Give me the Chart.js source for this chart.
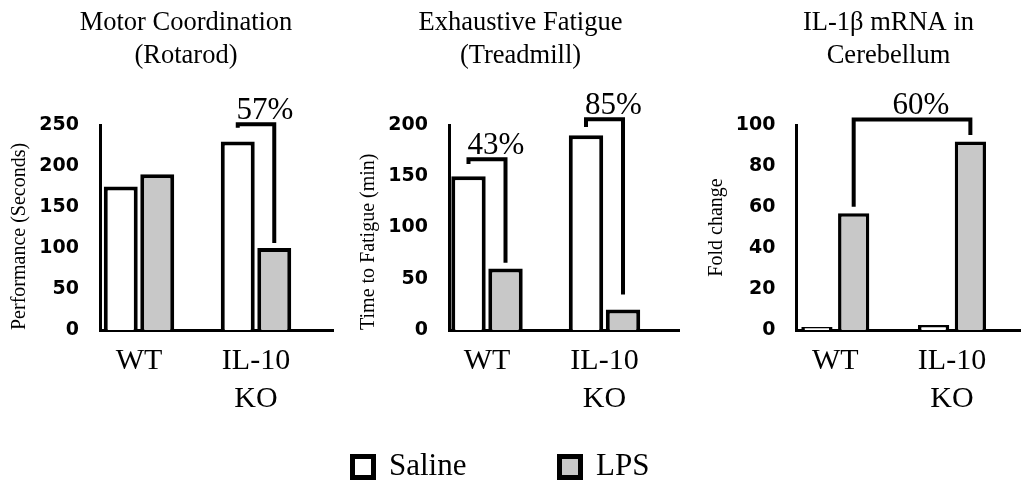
<!DOCTYPE html>
<html>
<head>
<meta charset="utf-8">
<script src="https://cdn.jsdelivr.net/npm/chart.js@4.4.1/dist/chart.umd.min.js"></script>
<style>
html, body { margin: 0; padding: 0; background: #fff; overflow: hidden; width: 1021px; height: 485px; }
canvas { position: absolute; left: 0; top: 0; }
</style>
</head>
<body>
<canvas id="c1" width="1021" height="485"></canvas>
<canvas id="c2" width="1021" height="485"></canvas>
<canvas id="c3" width="1100" height="485"></canvas>
<canvas id="c4" width="1021" height="620"></canvas>
<script>
// ---- data ----
const categories = [['WT'], ['IL-10', 'KO']];
const seriesNames = ['Saline', 'LPS'];

const rotarodSaline = [175, 230];
const rotarodLPS = [190, 100];
const treadmillSaline = [150, 190];
const treadmillLPS = [60, 20];
const il1bSaline = [1.5, 2.5];
const il1bLPS = [57, 92];

const rotarodAxis = [0, 250, 50];   // min, max, step
const treadmillAxis = [0, 200, 50];
const il1bAxis = [0, 100, 20];

const panelTitles = [['Motor Coordination', '(Rotarod)'], ['Exhaustive Fatigue', '(Treadmill)'], ['IL-1β mRNA in', 'Cerebellum']];
const yTitles = ['Performance (Seconds)', 'Time to Fatigue (min)', 'Fold change'];

// brackets: from/to = [category index, series index]; level/ends in data units
const rotarodBrackets = [{ from: [1, 0], to: [1, 1], level: 251, leftEnd: 246.5, rightEnd: 106, label: '57%' }];
const treadmillBrackets = [
  { from: [0, 0], to: [0, 1], level: 166.6, leftEnd: 162, rightEnd: 65.5, label: '43%' },
  { from: [1, 0], to: [1, 1], level: 205.7, leftEnd: 198, rightEnd: 34.6, label: '85%' }
];
const il1bBrackets = [{ from: [0, 1], to: [1, 1], level: 102.7, leftEnd: 60.1, rightEnd: 95.1, label: '60%' }];

// ---- styles ----
const fills = ['#ffffff', '#c8c8c8'];
const SERIF = 'Liberation Serif';

const bracketPlugin = {
  id: 'brackets',
  afterDatasetsDraw(chart, args, opts) {
    const ctx = chart.ctx;
    const ys = chart.scales.y;
    ctx.save();
    ctx.strokeStyle = '#000';
    ctx.lineWidth = 4;
    ctx.lineJoin = 'miter';
    ctx.lineCap = 'butt';
    (opts.items || []).forEach(b => {
      const xl = chart.getDatasetMeta(b.from[1]).data[b.from[0]].x;
      const xr = chart.getDatasetMeta(b.to[1]).data[b.to[0]].x;
      const yl = ys.getPixelForValue(b.level);
      ctx.beginPath();
      ctx.moveTo(xl, ys.getPixelForValue(b.leftEnd));
      ctx.lineTo(xl, yl);
      ctx.lineTo(xr, yl);
      ctx.lineTo(xr, ys.getPixelForValue(b.rightEnd));
      ctx.stroke();
      ctx.font = '31px "' + SERIF + '"';
      ctx.fillStyle = '#000';
      ctx.textAlign = 'center';
      ctx.textBaseline = 'alphabetic';
      ctx.fillText(b.label, (xl + xr) / 2 + 9, yl - 5.5);
    });
    ctx.restore();
  }
};

function makePanel(id, p) {
  const series = [p.saline, p.lps];
  return new Chart(document.getElementById(id), {
    type: 'bar',
    data: {
      datasets: series.map((vals, s) => ({
        label: seriesNames[s],
        data: vals.map((v, i) => ({ x: i, y: v })),
        backgroundColor: fills[s],
        borderColor: '#000',
        borderWidth: p.barBorder,
        borderSkipped: 'start',
        categoryPercentage: p.catPct,
        barPercentage: p.barPct
      }))
    },
    options: {
      responsive: false,
      animation: false,
      events: [],
      layout: { padding: { left: p.padL, right: p.padR, top: 0, bottom: 68 } },
      scales: {
        x: {
          type: 'linear',
          min: p.xMin,
          max: p.xMax,
          offset: false,
          grid: { display: false, drawTicks: false },
          border: { display: true, color: '#000', width: 3 },
          afterBuildTicks: s => { s.ticks = categories.map((c, i) => ({ value: i })); },
          afterFit: s => { s.height = 87; },
          ticks: {
            autoSkip: false,
            maxRotation: 0,
            padding: 12,
            color: '#000',
            font: { family: SERIF, size: 30, lineHeight: '38px' },
            callback: v => categories[v]
          }
        },
        y: {
          min: p.axis[0],
          max: p.axis[1],
          grid: { display: false, drawTicks: false },
          border: { display: true, color: '#000', width: 3 },
          afterFit: s => { s.width = p.yWidth; },
          ticks: {
            stepSize: p.axis[2],
            padding: 21,
            color: '#000',
            font: { family: 'DejaVu Sans', size: 19, weight: 'bold' }
          },
          title: {
            display: true,
            text: p.yTitle,
            color: '#000',
            align: p.yAlign,
            font: { family: SERIF, size: 20, lineHeight: 1.2 },
            padding: { top: p.yTitlePad, bottom: 0 }
          }
        }
      },
      plugins: {
        legend: { display: false },
        tooltip: { enabled: false },
        title: {
          display: true,
          text: p.title,
          color: '#000',
          font: { family: SERIF, size: 26.5, weight: 'normal', lineHeight: '33px' },
          padding: { top: 7, bottom: 52 }
        },
        brackets: { items: p.brackets }
      }
    },
    plugins: [bracketPlugin]
  });
}

makePanel('c1', {
  saline: rotarodSaline, lps: rotarodLPS, axis: rotarodAxis,
  title: panelTitles[0], yTitle: yTitles[0], brackets: rotarodBrackets,
  padL: 39, padR: 688, yWidth: 61, yTitlePad: -31, yAlign: 'start',
  xMin: -0.3333, xMax: 1.658, catPct: 0.624, barPct: 0.93, barBorder: 4
});
makePanel('c2', {
  saline: treadmillSaline, lps: treadmillLPS, axis: treadmillAxis,
  title: panelTitles[1], yTitle: yTitles[1], brackets: treadmillBrackets,
  padL: 362, padR: 342, yWidth: 87, yTitlePad: -5, yAlign: 'start',
  xMin: -0.3234, xMax: 1.634, catPct: 0.63, barPct: 0.93, barBorder: 4
});
makePanel('c3', {
  saline: il1bSaline, lps: il1bLPS, axis: il1bAxis,
  title: panelTitles[2], yTitle: yTitles[2], brackets: il1bBrackets,
  padL: 725, padR: 48, yWidth: 71.5, yTitlePad: -20.3, yAlign: 'center',
  xMin: -0.3325, xMax: 1.857, catPct: 0.63, barPct: 0.85, barBorder: 3.5
});

// shared legend
new Chart(document.getElementById('c4'), {
  type: 'bar',
  data: {
    labels: [],
    datasets: seriesNames.map((n, s) => ({
      label: n, data: [], backgroundColor: fills[s], borderColor: '#000', borderWidth: 5
    }))
  },
  options: {
    responsive: false,
    animation: false,
    events: [],
    layout: { padding: { left: 259.5, top: 358.5, right: 0, bottom: 0 } },
    scales: { x: { display: false }, y: { display: false } },
    plugins: {
      tooltip: { enabled: false },
      title: { display: false },
      legend: {
        display: true,
        position: 'top',
        align: 'start',
        maxHeight: 240,
        labels: {
          boxWidth: 21, boxHeight: 21, padding: 93, color: '#000',
          font: { family: SERIF, size: 31 }
        }
      }
    }
  }
});
</script>
</body>
</html>
